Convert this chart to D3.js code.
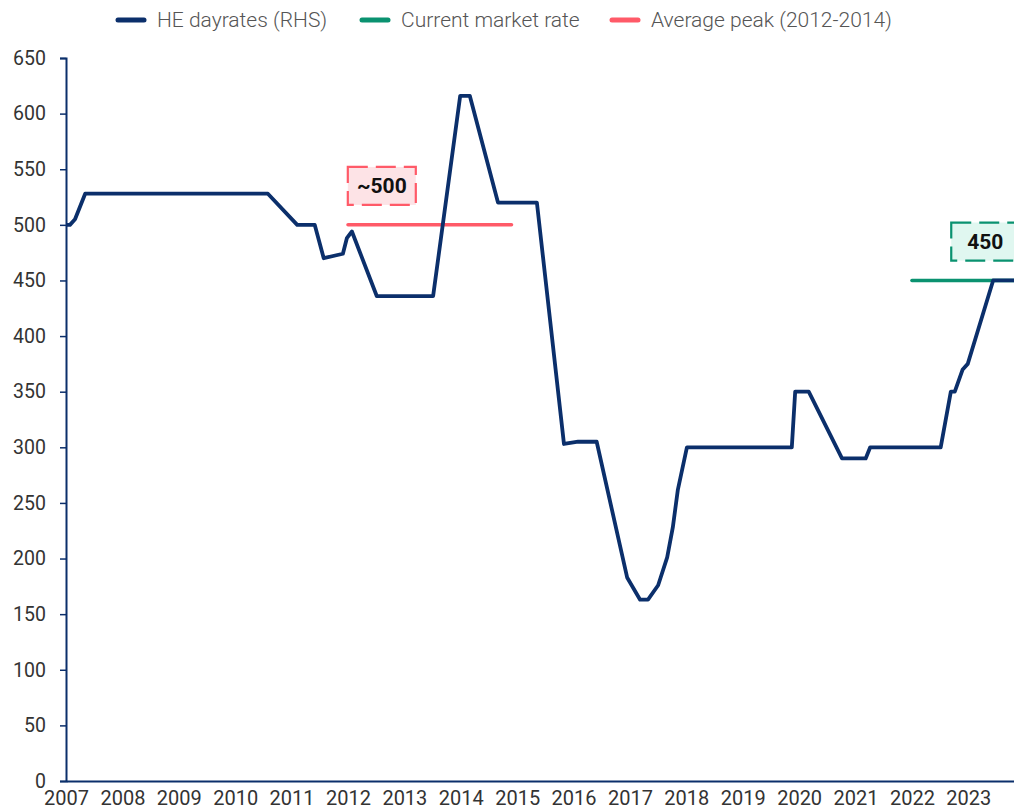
<!DOCTYPE html>
<html><head><meta charset="utf-8">
<script src="https://cdn.jsdelivr.net/npm/d3@7"></script>
<style>body{margin:0;background:#fff} svg{display:block;font-family:Roboto, "Noto Sans", sans-serif}</style>
</head><body><svg id="c" width="1014" height="810"></svg>
<script>
// ---- data ----
const yearTicks = [2007,2008,2009,2010,2011,2012,2013,2014,2015,2016,2017,2018,2019,2020,2021,2022,2023];
const yTicks = [0,50,100,150,200,250,300,350,400,450,500,550,600,650];
// HE dayrates: time (fractional year) and value
const dayrateT = [2007.0,2007.07,2007.16,2007.34,2010.58,2011.10,2011.41,2011.57,2011.91,2011.98,2012.07,2012.51,2013.51,2013.99,2014.16,2014.66,2015.35,2015.83,2016.08,2016.41,2016.95,2017.18,2017.32,2017.50,2017.66,2017.76,2017.85,2018.01,2019.87,2019.93,2020.17,2020.76,2021.18,2021.26,2022.51,2022.69,2022.76,2022.90,2022.99,2023.44,2023.81];
const dayrateV = [500,500,505,528,528,500,500,470,474,488,494,436,436,616,616,520,520,303,305,305,183,163,163,176,201,228,262,300,300,350,350,290,290,300,300,350,350,370,375,450,450];
const currentT = [2022.0, 2023.81];
const currentV = [450, 450];
const peakT = [2012.0, 2014.9];
const peakV = [500, 500];
const seriesNames = ["HE dayrates (RHS)", "Current market rate", "Average peak (2012-2014)"];
const seriesColors = ["#0b2f6b", "#0a9270", "#ff5a68"];
const annoText = ["~500", "450"];
const annoT = [2012.6, 2023.3];
const annoV = [535, 485];

// ---- chart ----
const svg = d3.select("#c");
const x = d3.scaleLinear().domain([2007, 2023.81]).range([66, 1014]);
const y = d3.scaleLinear().domain([0, 650]).range([781, 58]);

// y axis
const ya = svg.append("g").attr("transform","translate(66,0)")
  .call(d3.axisLeft(y).tickValues(yTicks).tickSize(6).tickPadding(14));
ya.select(".domain").attr("stroke","#0b2f6b").attr("stroke-width",2);
ya.selectAll(".tick line").attr("stroke","#0b2f6b").attr("stroke-width",1.5);
ya.selectAll(".tick text").attr("fill","#333").attr("font-size",19.5).attr("font-family","Roboto, sans-serif");

// x axis
const xa = svg.append("g").attr("transform","translate(0,781)")
  .call(d3.axisBottom(x).tickValues(yearTicks).tickFormat(d3.format("d")).tickSize(0).tickPadding(10).tickSizeOuter(0));
xa.select(".domain").attr("stroke","#0b2f6b").attr("stroke-width",2);
xa.selectAll(".tick text").attr("fill","#333").attr("font-size",20).attr("font-family","Roboto, sans-serif");

const line = d3.line().x(d=>x(d[0])).y(d=>y(d[1]));

// average peak line
svg.append("path").datum(peakT.map((t,i)=>[t,peakV[i]]))
  .attr("d",line).attr("fill","none").attr("stroke",seriesColors[2]).attr("stroke-width",3.5).attr("stroke-linecap","round");
// current market rate line
svg.append("path").datum(currentT.map((t,i)=>[t,currentV[i]]))
  .attr("d",line).attr("fill","none").attr("stroke",seriesColors[1]).attr("stroke-width",3.5).attr("stroke-linecap","round");
// dayrates
svg.append("path").datum(dayrateT.map((t,i)=>[t,dayrateV[i]]))
  .attr("d",line).attr("fill","none").attr("stroke",seriesColors[0]).attr("stroke-width",3.8).attr("stroke-linejoin","round");

// annotations
const annoFill = ["#fde3e6", "#e0f7f0"];
const annoStroke = [seriesColors[2], seriesColors[1]];
annoText.forEach((t,i)=>{
  const cx = x(annoT[i]), cy = y(annoV[i]);
  const g = svg.append("g");
  g.append("rect").attr("x",cx-34).attr("y",cy-19).attr("width",68).attr("height",38)
    .attr("fill",annoFill[i]).attr("stroke",annoStroke[i]).attr("stroke-width",2.2)
    .attr("stroke-dasharray","20,8");
  g.append("text").attr("x",cx).attr("y",cy).attr("dy","0.35em").attr("text-anchor","middle")
    .attr("font-size",21).attr("font-weight","bold").attr("fill","#111").text(t);
});

// legend
const legX = [118, 362, 612];
const lg = svg.append("g").attr("transform","translate(0,20)");
seriesNames.forEach((n,i)=>{
  lg.append("line").attr("x1",legX[i]).attr("x2",legX[i]+26).attr("y1",0).attr("y2",0)
    .attr("stroke",seriesColors[i]).attr("stroke-width",5).attr("stroke-linecap","round");
  lg.append("text").attr("x",legX[i]+39).attr("y",0).attr("dy","0.35em")
    .attr("font-size",21).attr("fill","#555").attr("font-weight",300).text(n);
});
</script></body></html>
